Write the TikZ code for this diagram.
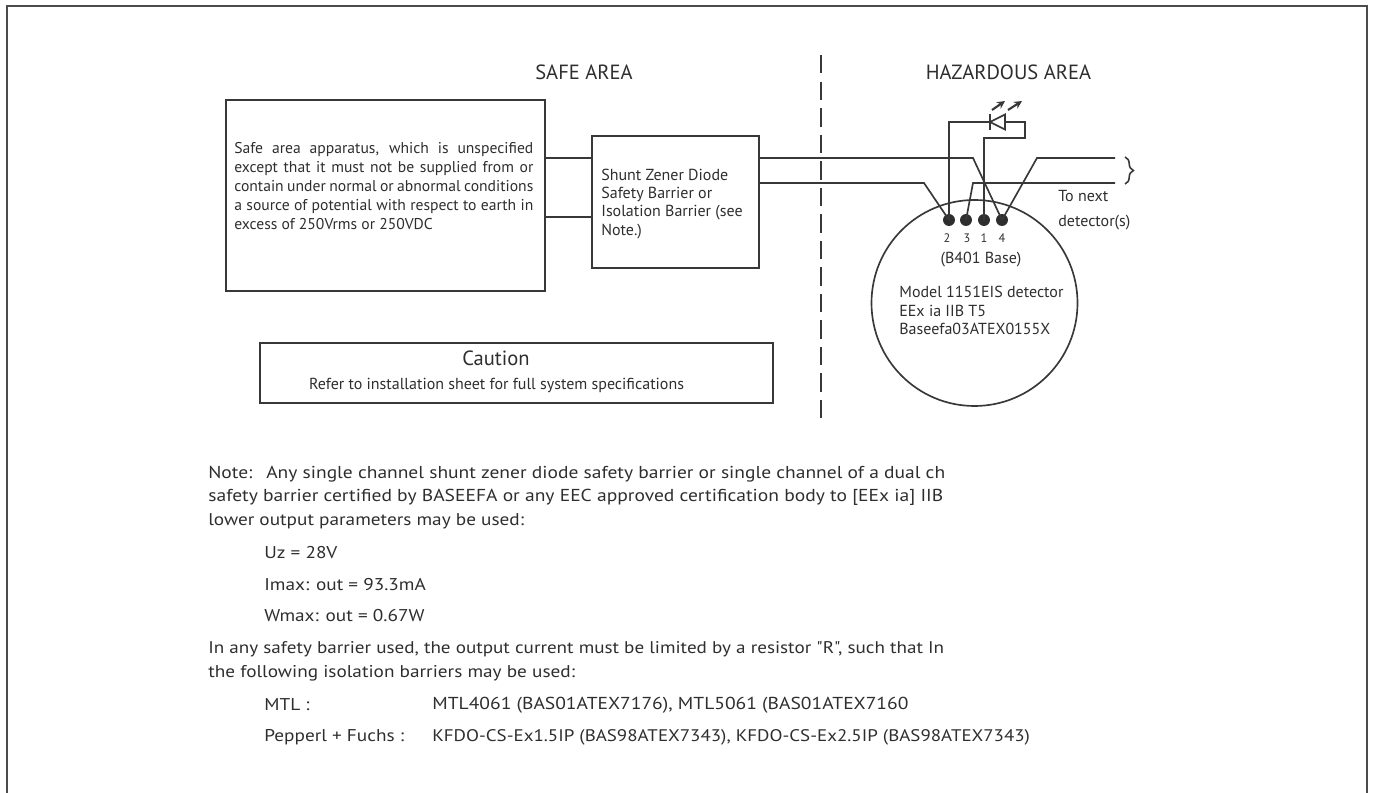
\documentclass[tikz,border=0pt]{standalone}
\usepackage{fontspec}
\setmainfont{PT Sans}
\newfontfamily\notefont[FakeStretch=1.13]{PT Sans}
\usetikzlibrary{arrows.meta,decorations.pathreplacing}
\begin{document}
\begin{tikzpicture}[x=0.02cm, y=-0.02cm,
	wire/.style={line width=0.95pt, draw=black!78},
	box/.style={draw=black!78, line width=1pt, inner sep=0pt},
	terminal/.style={circle, fill=black!82, inner sep=0pt, minimum size=6.8pt},
	lbl/.style={font=\fontsize{9.1}{10.8}\selectfont, inner sep=0pt, anchor=west, text=black!82},
	num/.style={font=\fontsize{7}{8}\selectfont, inner sep=0pt, text=black!82},
	head/.style={font=\fontsize{11.7}{13}\selectfont, inner sep=0pt, text=black!82},
	notes/.style={font=\notefont\fontsize{#1}{11}\selectfont, inner sep=0pt, anchor=west, text=black!82},
	notes/.default=9.7]
	\useasboundingbox (0,0) rectangle (1373,793);
	% frame is open at the bottom
	\draw[line width=1pt, draw=black!70] (7,793) -- (7,6) -- (1367,6) -- (1367,793);
	\node[head] (safe) at (584,72) {SAFE AREA};
	\node[head] (haz) at (1008.5,72) {HAZARDOUS AREA};
	\draw[line width=0.85pt, draw=black!78, dash pattern=on 10.5pt off 4.6pt] (821,55) -- (821,422);
	% boxes
	\node[box, minimum width=319*0.02cm, minimum height=191*0.02cm] (apparatus) at (385.5,195.5) {};
	\node[box, minimum width=167*0.02cm, minimum height=132*0.02cm] (barrier) at (675.5,202) {};
	\node[box, minimum width=513*0.02cm, minimum height=60*0.02cm] (caution) at (516.5,373) {};
	\node[lbl, font=\fontsize{8.9}{10.8}\selectfont, text width=299*0.02cm, align=justify] (apptext) at (234,186) {Safe area apparatus, which is unspecified\linebreak
		except that it must not be supplied from or\linebreak
		contain under normal or abnormal conditions\linebreak
		a source of potential with respect to earth in\linebreak
		excess of 250Vrms or 250VDC};
	\foreach \t [count=\i] in {Shunt Zener Diode,Safety Barrier or,Isolation Barrier (see,Note.)}{
		\node[lbl] (bar\i) at (601,{175+19*(\i-1)}) {\t};
	}
	\node[head] (cautext) at (496,358) {Caution};
	\node[lbl, anchor=center] (refer) at (496.5,385) {Refer to installation sheet for full system specifications};
	% detector
	\node[draw=black!78, line width=0.95pt, circle, minimum size=206*0.02cm, inner sep=0pt] (base) at (974.5,303) {};
	\foreach \n/\x/\lx in {2/949/947,3/966/967,1/984/984,4/1002/1002}{
		\node[terminal] (t\n) at (\x,220) {};
		\node[num] (n\n) at (\lx,238) {\n};
	}
	\node[lbl, anchor=center] (basetext) at (981,260) {(B401 Base)};
	\node[lbl] (model1) at (899,292) {Model 1151EIS detector};
	\node[lbl] (model2) at (899,311) {EEx ia IIB T5};
	\node[lbl] (model3) at (899,329) {Baseefa03ATEX0155X};
	\node[lbl] (next1) at (1058,196) {To next};
	\node[lbl] (next2) at (1058,223) {detector(s)};
	% wires
	\coordinate (appa) at (apparatus.east |- 0,158);
	\coordinate (appb) at (apparatus.east |- 0,217);
	\coordinate (bara) at (barrier.west |- 0,158);
	\coordinate (barb) at (barrier.west |- 0,217);
	\draw[wire] (appa) -- (bara);
	\draw[wire] (appb) -- (barb);
	\coordinate (outa) at (barrier.east |- 0,158);
	\coordinate (outb) at (barrier.east |- 0,183);
	\coordinate (enda) at (1115,158);
	\coordinate (endb) at (1115,183);
	\draw[wire] (outa) -- (973,158) -- (t4.center);
	\draw[wire] (outb) -- (924,183) -- (t2.center);
	\draw[wire] (t3.center) -- (973,183) -- (endb);
	\draw[wire] (t4.center) -- (1037,158) -- (enda);
	% LED
	\coordinate (ledtip) at (990,122);
	\coordinate (ledbase) at (1005,122);
	\draw[wire] (t2.center) -- (949,122) -- (ledtip);
	\draw[wire] (990,114) -- (990,130);
	\draw[wire] (ledtip) -- (1005,114.5) -- (1005,129.5) -- cycle;
	\draw[wire] (ledbase) -- (1025,122) -- (1025,138) -- (984,138) -- (t1.center);
	\draw[wire, line width=1.2pt, -{Stealth[length=4.5pt,width=4.4pt]}] (992,110) -- (1005,101);
	\draw[wire, line width=1.2pt, -{Stealth[length=4.5pt,width=4.4pt]}] (1008,110) -- (1022,101);
	\draw[line width=0.9pt, draw=black!78, decorate, decoration={brace, amplitude=4.8pt}] (1125,157) -- (1125,184);
	% notes
	\node[notes=9.82] (note1) at (208,474) {Note:\hspace{0.4em} Any single channel shunt zener diode safety barrier or single channel of a dual ch};
	\node[notes=9.84] (note2) at (208,497) {safety barrier certified by BASEEFA or any EEC approved certification body to [EEx ia] IIB};
	\node[notes] (note3) at (208,521) {lower output parameters may be used:};
	\node[notes] (uz) at (264,553) {Uz = 28V};
	\node[notes] (imax) at (264,585) {Imax: out = 93.3mA};
	\node[notes] (wmax) at (264,616) {Wmax: out = 0.67W};
	\node[notes=9.63] (note4) at (208,649) {In any safety barrier used, the output current must be limited by a resistor "R", such that In};
	\node[notes] (note5) at (208,673) {the following isolation barriers may be used:};
	\node[notes] (mtl) at (264,705) {MTL :};
	\node[notes=9.85] (mtlpart) at (432,705) {MTL4061 (BAS01ATEX7176), MTL5061 (BAS01ATEX7160};
	\node[notes] (pf) at (264,737) {Pepperl + Fuchs :};
	\node[notes=9.55] (pfpart) at (432,737) {KFDO-CS-Ex1.5IP (BAS98ATEX7343), KFDO-CS-Ex2.5IP (BAS98ATEX7343)};
\end{tikzpicture}
\end{document}
